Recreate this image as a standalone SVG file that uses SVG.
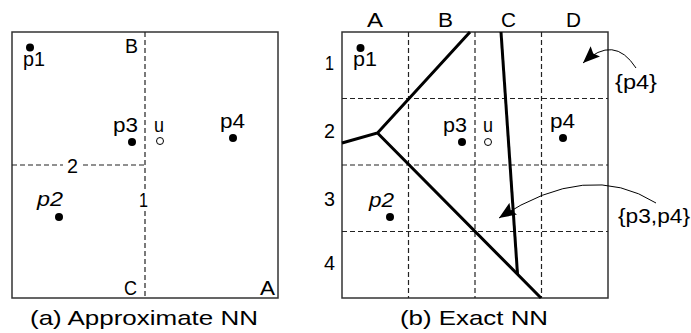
<svg xmlns="http://www.w3.org/2000/svg" width="691" height="333" viewBox="0 0 691 333">
<style>
text{font-family:"Liberation Sans",Arial,sans-serif;font-size:19.5px;fill:#000}
.cap{font-size:21px}
.it{font-style:italic}
.box{fill:none;stroke:#333;stroke-width:1.5}
.dash{fill:none;stroke:#222;stroke-width:1.2;stroke-dasharray:5 3}
.thick{fill:none;stroke:#000;stroke-width:3;stroke-linejoin:miter}
.dot{fill:#000}
.open{fill:#fff;stroke:#000;stroke-width:1}
.arc{fill:none;stroke:#000;stroke-width:1}
</style>
<defs>
<marker id="ah" markerUnits="userSpaceOnUse" markerWidth="18" markerHeight="14" refX="17" refY="7" orient="auto">
<path d="M0,0 L17,7 L0,14 L3,7 z" fill="#000"/>
</marker>
</defs>
<rect width="691" height="333" fill="#fff"/>

<g id="panel-a">
<rect class="box" x="12" y="32" width="266" height="266"/>
<g id="a-splits">
<path class="dash" d="M145,32 V189 M145,211 V298"/>
<path class="dash" d="M12,165 H63 M83,165 H145"/>
</g>
<text x="67" y="173" textLength="11" lengthAdjust="spacingAndGlyphs">2</text>
<text x="139" y="207" textLength="9" lengthAdjust="spacingAndGlyphs">1</text>
<text x="125" y="53" textLength="13" lengthAdjust="spacingAndGlyphs">B</text>
<text x="124" y="295" textLength="13" lengthAdjust="spacingAndGlyphs">C</text>
<text x="260" y="295" textLength="15" lengthAdjust="spacingAndGlyphs">A</text>
<g id="a-p1"><circle class="dot" cx="30" cy="47.5" r="4"/><text x="23" y="66" textLength="22" lengthAdjust="spacingAndGlyphs">p1</text></g>
<g id="a-p3"><circle class="dot" cx="132" cy="142" r="4"/><text x="113" y="132" textLength="25" lengthAdjust="spacingAndGlyphs">p3</text></g>
<g id="a-u"><circle class="open" cx="160" cy="141" r="3.5"/><text x="154" y="132" textLength="10" lengthAdjust="spacingAndGlyphs">u</text></g>
<g id="a-p4"><circle class="dot" cx="233" cy="138" r="4"/><text x="220" y="128" textLength="25" lengthAdjust="spacingAndGlyphs">p4</text></g>
<g id="a-p2"><circle class="dot" cx="59" cy="217" r="4"/><text class="it" x="37" y="206" textLength="26" lengthAdjust="spacingAndGlyphs">p2</text></g>
<text class="cap" x="30" y="325" textLength="228" lengthAdjust="spacingAndGlyphs">(a) Approximate NN</text>
</g>

<g id="panel-b">
<rect class="box" x="342" y="32" width="266" height="266"/>
<g id="b-grid">
<path class="dash" d="M408.5,32 V298 M475,32 V298 M541.5,32 V298"/>
<path class="dash" d="M342,98.5 H608 M342,165 H608 M342,231.5 H608"/>
</g>
<g id="b-cols">
<text x="367" y="27" textLength="16" lengthAdjust="spacingAndGlyphs">A</text>
<text x="438" y="27" textLength="15" lengthAdjust="spacingAndGlyphs">B</text>
<text x="501" y="27" textLength="15" lengthAdjust="spacingAndGlyphs">C</text>
<text x="566" y="27" textLength="15" lengthAdjust="spacingAndGlyphs">D</text>
</g>
<g id="b-rows">
<text x="325" y="70" textLength="9" lengthAdjust="spacingAndGlyphs">1</text>
<text x="324" y="138" textLength="11" lengthAdjust="spacingAndGlyphs">2</text>
<text x="324" y="206" textLength="11" lengthAdjust="spacingAndGlyphs">3</text>
<text x="324" y="270" textLength="11" lengthAdjust="spacingAndGlyphs">4</text>
</g>
<g id="b-voronoi">
<path class="thick" d="M470,32 L377.5,133 L342,143 M377.5,133 L541,298"/>
<path class="thick" d="M501,32 L517.5,274"/>
</g>
<g id="b-p1"><circle class="dot" cx="360.5" cy="48" r="4"/><text x="353" y="66" textLength="24" lengthAdjust="spacingAndGlyphs">p1</text></g>
<g id="b-p3"><circle class="dot" cx="462" cy="142" r="4"/><text x="443" y="132" textLength="24" lengthAdjust="spacingAndGlyphs">p3</text></g>
<g id="b-u"><circle class="open" cx="488" cy="142" r="3.5"/><text x="483" y="132" textLength="10" lengthAdjust="spacingAndGlyphs">u</text></g>
<g id="b-p4"><circle class="dot" cx="563" cy="138" r="4"/><text x="550" y="128" textLength="25" lengthAdjust="spacingAndGlyphs">p4</text></g>
<g id="b-p2"><circle class="dot" cx="390" cy="217" r="4"/><text class="it" x="369" y="207" textLength="25" lengthAdjust="spacingAndGlyphs">p2</text></g>
<g id="connectors">
<path class="arc" d="M636,68 Q614,34 583,63" marker-end="url(#ah)"/>
<path class="arc" d="M656,203 Q588,160 499,218" marker-end="url(#ah)"/>
</g>
<text x="615" y="89" textLength="42" lengthAdjust="spacingAndGlyphs">{p4}</text>
<text x="618" y="223" textLength="72" lengthAdjust="spacingAndGlyphs">{p3,p4}</text>
<text class="cap" x="400" y="325" textLength="148" lengthAdjust="spacingAndGlyphs">(b) Exact NN</text>
</g>
</svg>
